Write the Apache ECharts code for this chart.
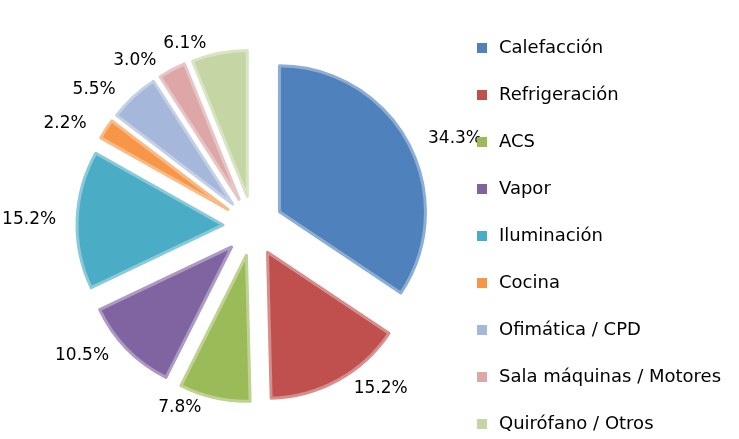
<!DOCTYPE html>
<html>
<head>
<meta charset="utf-8">
<script src="https://cdn.jsdelivr.net/npm/echarts@6/dist/echarts.min.js"></script>
<style>
  html, body { margin: 0; padding: 0; background: #fff; }
  #chart { width: 739px; height: 439px; }
</style>
</head>
<body>
<div id="chart"></div>
<script>
// energy use breakdown by end use (%)
var categories = ['Calefacción', 'Refrigeración', 'ACS', 'Vapor', 'Iluminación',
  'Cocina', 'Ofimática / CPD', 'Sala máquinas / Motores', 'Quirófano / Otros'];
var shares = [34.3, 15.2, 7.8, 10.5, 15.2, 2.2, 5.5, 3.0, 6.1];
var colors = ['#4F81BD', '#C0504D', '#9BBB59', '#8064A2', '#4BACC6',
  '#F79646', '#A5B7DA', '#DCA7A6', '#C5D6A4'];

(function () {
  var font = '"DejaVu Sans", sans-serif';
  var chart = echarts.init(document.getElementById('chart'), null, { renderer: 'canvas' });

  var data = categories.map(function (name, i) {
    return {
      name: name,
      value: shares[i],
      selected: true,
      itemStyle: {
        color: colors[i],
        borderColor: echarts.color.lift(colors[i], 0.35),
        borderWidth: 3
      }
    };
  });

  chart.setOption({
    animation: false,
    color: colors,
    legend: {
      orient: 'vertical',
      left: 477,
      top: 38,
      padding: 0,
      itemWidth: 10,
      itemHeight: 10,
      itemGap: 27,
      icon: 'rect',
      selectedMode: false,
      itemStyle: { borderWidth: 0 },
      textStyle: { color: '#000', fontSize: 18, fontFamily: font, lineHeight: 20, padding: [0, 0, 0, 7] },
      data: categories
    },
    series: [{
      type: 'pie',
      center: [253, 226],
      radius: [0, 146],
      startAngle: 90,
      clockwise: true,
      selectedMode: 'multiple',
      selectedOffset: 30,
      avoidLabelOverlap: false,
      labelLayout: { hideOverlap: false },
      label: {
        show: true,
        position: 'outside',
        color: '#000',
        fontSize: 17,
        fontFamily: font,
        formatter: function (p) { return p.value.toFixed(1) + '%'; }
      },
      labelLine: { show: false, length: 10, length2: 6 },
      emphasis: { disabled: true },
      data: data
    }]
  });
})();
</script>
</body>
</html>
